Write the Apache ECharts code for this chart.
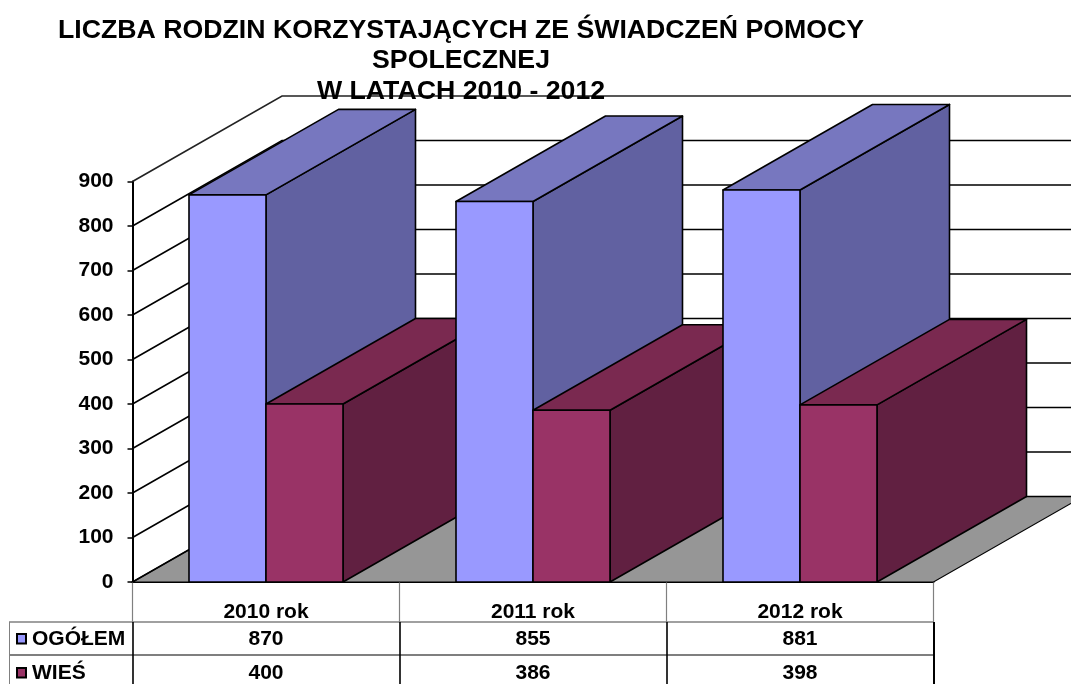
<!DOCTYPE html>
<html>
<head>
<meta charset="utf-8">
<style>
  html, body { margin: 0; padding: 0; background: #fff; overflow: hidden; }
  #main { width: 1071px; height: 684px; }
</style>
<script src="https://cdn.jsdelivr.net/npm/echarts@6/dist/echarts.min.js"></script>
</head>
<body>
<div id="main"></div>
<script>
  const titleLines = ['LICZBA RODZIN KORZYSTAJĄCYCH ZE ŚWIADCZEŃ POMOCY', 'SPOLECZNEJ', 'W LATACH 2010 - 2012']
  const categories = ['2010 rok', '2011 rok', '2012 rok']
  const ogolem = [870, 855, 881]
  const wies = [400, 386, 398]
  const yTicks = [0, 100, 200, 300, 400, 500, 600, 700, 800, 900]

  const font = '"Liberation Sans", Arial, sans-serif'
  // przesuniecie glebokosci wykresu 3D
  const depthX = 149.5
  const depthY = -85.5
  const wallEnd = 1083
  const rows = [
    { name: 'OGÓŁEM', values: ogolem, y: 639, color: '#9999ff' },
    { name: 'WIEŚ', values: wies, y: 673, color: '#993366' }
  ]

  function poly(points, fill, z2) {
    return {
      type: 'polygon',
      z2: z2,
      shape: { points: points },
      style: { fill: fill, stroke: '#000', lineWidth: 1.6, lineJoin: 'round' }
    }
  }

  function barRenderer(seriesIndex, colors) {
    return function (params, api) {
      const cat = api.value(0)
      const top = api.coord([cat, api.value(1)])
      const base = api.coord([cat, 0])
      const w = api.size([1, 0])[0] * 0.2884
      const x0 = base[0] - w + seriesIndex * w
      const x1 = x0 + w
      // kolejnosc malowania: kategoria, potem seria
      const z2 = 10 + (cat * 2 + seriesIndex) * 5
      return {
        type: 'group',
        children: [
          poly([[x1, top[1]], [x1 + depthX, top[1] + depthY], [x1 + depthX, base[1] + depthY], [x1, base[1]]], colors[2], z2),
          poly([[x0, top[1]], [x1, top[1]], [x1 + depthX, top[1] + depthY], [x0 + depthX, top[1] + depthY]], colors[1], z2 + 1),
          poly([[x0, top[1]], [x1, top[1]], [x1, base[1]], [x0, base[1]]], colors[0], z2 + 2)
        ]
      }
    }
  }

  const tableGraphics = []
  function tableLine(x1, y1, x2, y2, color, width) {
    tableGraphics.push({
      type: 'line',
      shape: { x1: x1, y1: y1, x2: x2, y2: y2 },
      style: { stroke: color, lineWidth: width }
    })
  }
  tableLine(9, 622, 934, 622, '#808080', 1.5)
  tableLine(9, 655, 934, 655, '#000', 1.2)
  tableLine(9.5, 622, 9.5, 684, '#808080', 1)
  tableLine(133, 622, 133, 684, '#000', 1.6)
  tableLine(400, 622, 400, 684, '#000', 1.6)
  tableLine(667, 622, 667, 684, '#000', 1.6)
  tableLine(934, 622, 934, 684, '#000', 2)
  rows.forEach(function (row) {
    tableGraphics.push({
      type: 'rect',
      shape: { x: 17, y: row.y - 5, width: 9, height: 9.5 },
      style: { fill: row.color, stroke: '#000', lineWidth: 2 }
    })
    tableGraphics.push({
      type: 'text',
      style: {
        text: row.name, x: 32, y: row.y, fill: '#000',
        font: 'bold 21px ' + font, textAlign: 'left', textVerticalAlign: 'middle'
      }
    })
  })

  const chart = echarts.init(document.getElementById('main'), null, { renderer: 'canvas' })
  chart.setOption({
    animation: false,
    backgroundColor: '#fff',
    title: {
      text: titleLines.join('\n'),
      left: 456,
      top: 10,
      textAlign: 'center',
      textStyle: { fontFamily: font, fontWeight: 'bold', fontSize: 26.7, lineHeight: 30.5, color: '#000' }
    },
    grid: { left: 132.5, top: 181.5, width: 801, height: 400.5 },
    xAxis: {
      type: 'category',
      data: categories,
      axisLine: { lineStyle: { color: '#000', width: 2 } },
      axisTick: { show: true, length: 40, lineStyle: { color: '#808080', width: 1.2 } },
      axisLabel: { margin: 20, color: '#000', fontFamily: font, fontWeight: 'bold', fontSize: 21 }
    },
    yAxis: {
      type: 'value',
      min: 0,
      max: 900,
      interval: 100,
      splitLine: { show: false },
      axisLine: { show: true, lineStyle: { color: '#000', width: 2 } },
      axisTick: { show: true, length: 5, lineStyle: { color: '#000', width: 1.5 } },
      axisLabel: { margin: 19, padding: [4, 0, 0, 0], color: '#000', fontFamily: font, fontWeight: 'bold', fontSize: 21 }
    },
    graphic: tableGraphics,
    series: [
      {
        name: 'podloga',
        type: 'custom',
        silent: true,
        data: [[0]],
        encode: { x: -1, y: 0 },
        renderItem: function (params, api) {
          const p = api.coord([0, 0])
          const x0 = p[0] - api.size([1, 0])[0] / 2
          const x1 = x0 + api.size([1, 0])[0] * categories.length
          return {
            type: 'polygon',
            z2: 1,
            shape: { points: [[x0, p[1]], [x0 + depthX, p[1] + depthY], [x1 + depthX, p[1] + depthY], [x1, p[1]]] },
            style: { fill: '#969696', stroke: '#000', lineWidth: 1.2 }
          }
        }
      },
      {
        name: 'siatka',
        type: 'custom',
        silent: true,
        data: yTicks.map(function (t) { return [t] }),
        encode: { x: -1, y: 0 },
        renderItem: function (params, api) {
          const p = api.coord([0, api.value(0)])
          const x0 = p[0] - api.size([1, 0])[0] / 2
          return {
            type: 'polyline',
            z2: 2,
            shape: { points: [[x0, p[1]], [x0 + depthX, p[1] + depthY], [wallEnd, p[1] + depthY]] },
            style: { fill: 'none', stroke: api.value(0) === 900 ? '#222' : '#000', lineWidth: 1.6 }
          }
        }
      },
      {
        name: 'OGÓŁEM',
        type: 'custom',
        silent: true,
        data: ogolem.map(function (v, i) { return [i, v] }),
        encode: { x: 0, y: 1 },
        renderItem: barRenderer(0, ['#9999ff', '#7777bf', '#6161a1'])
      },
      {
        name: 'WIEŚ',
        type: 'custom',
        silent: true,
        data: wies.map(function (v, i) { return [i, v] }),
        encode: { x: 0, y: 1 },
        renderItem: barRenderer(1, ['#993366', '#7a2950', '#612041'])
      },
      {
        name: 'tabela',
        type: 'custom',
        silent: true,
        data: categories.map(function (c, i) { return [i, 0] }),
        encode: { x: 0, y: 1 },
        renderItem: function (params, api) {
          const cat = api.value(0)
          const x = api.coord([cat, 0])[0]
          return {
            type: 'group',
            children: rows.map(function (row) {
              return {
                type: 'text',
                style: {
                  text: String(row.values[cat]), x: x, y: row.y, fill: '#000',
                  font: 'bold 21px ' + font, textAlign: 'center', textVerticalAlign: 'middle'
                }
              }
            })
          }
        }
      }
    ]
  })
</script>
</body>
</html>
